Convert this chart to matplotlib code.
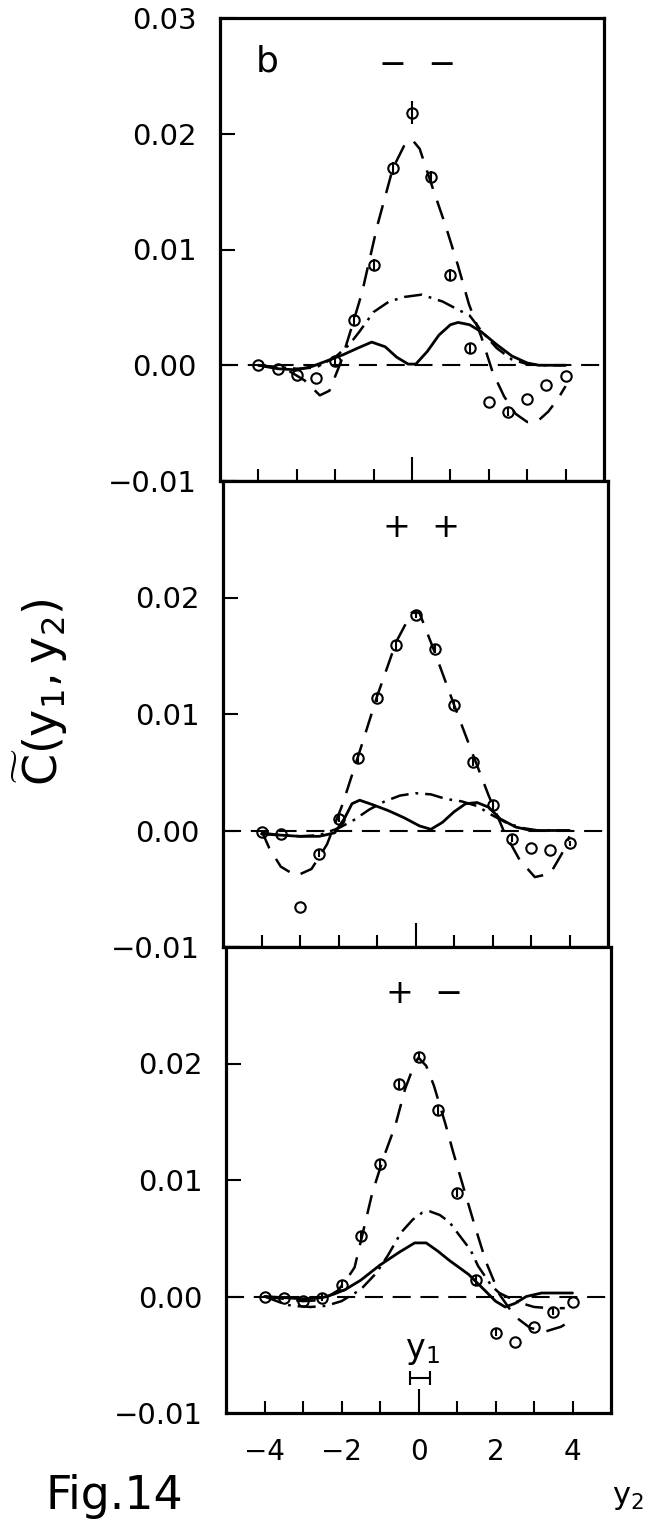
import matplotlib
matplotlib.use("Agg")
import matplotlib.pyplot as plt

plt.rcParams["font.family"] = ["DejaVu Sans"]
plt.rcParams["mathtext.fontset"] = "dejavusans"
plt.rcParams["lines.scale_dashes"] = False
plt.rcParams["axes.unicode_minus"] = True

# ---------------------------------------------------------------- data
y2 = [-4.0, -3.5, -3.0, -2.5, -2.0, -1.5, -1.0, -0.5, 0.0,
      0.5, 1.0, 1.5, 2.0, 2.5, 3.0, 3.5, 4.0]

# charge combination "- -"
mm_pts = [0.0, -0.0003, -0.0008, -0.0011, 0.0004, 0.0039, 0.0087, 0.0170, 0.0218,
          0.0163, 0.0078, 0.0015, -0.0032, -0.0040, -0.0029, -0.0017, -0.0009]
mm_err = [0, 0, 0, 0, 0.0003, 0.0005, 0.0005, 0.0006, 0.0010,
          0.0005, 0.0005, 0.0004, 0, 0.0004, 0, 0, 0]
mm_dash_x = [-4.0, -3.3, -2.8, -2.4, -2.15, -1.85, -1.55, -1.3, -0.9, -0.5, -0.2, 0.0,
             0.2, 0.55, 0.87, 1.19, 1.48, 1.8, 2.1, 2.4, 2.7, 3.0, 3.25, 3.55, 3.8, 4.0]
mm_dash_y = [0.0, -0.0003, -0.0013, -0.0026, -0.0022, 0.0003, 0.0035, 0.0063, 0.0121,
             0.0170, 0.0190, 0.0195, 0.0187, 0.0152, 0.0121, 0.0087, 0.0053, 0.0025,
             -0.0006, -0.0027, -0.0042, -0.0049, -0.0049, -0.0040, -0.0029, -0.0018]
mm_dd_x = [-4.0, -3.0, -2.5, -2.0, -1.63, -1.37, -1.0, -0.6, -0.2, 0.25, 0.8, 1.2,
           1.5, 1.8, 2.2, 2.6, 3.0, 3.4, 4.0]
mm_dd_y = [0.0, -0.0003, -0.0002, 0.0007, 0.0018, 0.0029, 0.0046, 0.0055, 0.0059,
           0.0061, 0.0055, 0.0048, 0.0043, 0.0030, 0.0015, 0.0005, 0.0001, 0.0, 0.0]
mm_sol_x = [-4.0, -3.5, -3.0, -2.6, -2.2, -1.8, -1.4, -1.05, -0.7, -0.4, -0.1, 0.1,
            0.4, 0.7, 1.0, 1.2, 1.5, 1.8, 2.2, 2.6, 3.0, 3.3, 4.0]
mm_sol_y = [0.0, -0.0003, -0.0004, -0.0001, 0.0004, 0.0009, 0.0015, 0.0020, 0.0016,
            0.0007, 0.0001, 0.0001, 0.0012, 0.0026, 0.0035, 0.0037, 0.0035, 0.0029,
            0.0018, 0.0008, 0.0002, 0.0, 0.0]

# charge combination "+ +"
pp_pts = [-0.0001, -0.0003, -0.0066, -0.0020, 0.0010, 0.0062, 0.0114, 0.0159, 0.0185,
          0.0156, 0.0108, 0.0059, 0.0022, -0.0007, -0.0015, -0.0017, -0.0011]
pp_err = [0, 0, 0, 0.0003, 0.0003, 0.0004, 0.0004, 0.0004, 0.0003,
          0.0004, 0.0004, 0.0004, 0.0004, 0.0003, 0, 0, 0.0002]
pp_dash_x = [-4.0, -3.8, -3.5, -3.1, -2.7, -2.3, -1.9, -1.4, -1.0, -0.5, -0.1, 0.1,
             0.5, 1.0, 1.4, 1.9, 2.3, 2.7, 3.1, 3.5, 3.8, 4.0]
pp_dash_y = [0.0, -0.0015, -0.0031, -0.0039, -0.0033, -0.0012, 0.0022, 0.0073, 0.0115,
             0.0162, 0.0187, 0.0187, 0.0153, 0.0108, 0.0073, 0.0030, -0.0001, -0.0025,
             -0.0040, -0.0037, -0.0020, -0.0005]
pp_dd_x = [-4.0, -3.5, -3.0, -2.5, -2.0, -1.6, -1.2, -0.8, -0.4, 0.0, 0.4, 0.8, 1.2,
           1.6, 2.0, 2.4, 2.8, 3.2, 3.6, 4.0]
pp_dd_y = [-0.0002, -0.0004, -0.0005, -0.0004, 0.0002, 0.0009, 0.0018, 0.0025, 0.0030,
           0.0032, 0.0031, 0.0027, 0.0025, 0.0021, 0.0013, 0.0006, 0.0002, 0.0, 0.0, 0.0]
pp_sol_x = [-4.0, -3.5, -3.0, -2.5, -2.1, -1.85, -1.65, -1.45, -1.1, -0.7, -0.3, 0.1,
            0.4, 0.7, 1.0, 1.3, 1.6, 1.9, 2.2, 2.6, 3.0, 4.0]
pp_sol_y = [-0.0003, -0.0004, -0.0005, -0.0005, -0.0002, 0.0010, 0.0023, 0.0026, 0.0022,
            0.0017, 0.0011, 0.0004, 0.0001, 0.0007, 0.0016, 0.0023, 0.0024, 0.0020,
            0.0010, 0.0003, 0.0, 0.0]

# charge combination "+ -"
pm_pts = [0.0, -0.0001, -0.0004, -0.0001, 0.0010, 0.0052, 0.0114, 0.0182, 0.0206,
          0.0160, 0.0089, 0.0014, -0.0031, -0.0039, -0.0026, -0.0013, -0.0005]
pm_err = [0, 0, 0, 0.0003, 0.0003, 0.0004, 0.0004, 0.0004, 0.0003,
          0.0004, 0.0004, 0.0004, 0.0003, 0, 0, 0.0003, 0]
pm_dash_x = [-4.0, -3.5, -3.0, -2.5, -2.1, -1.9, -1.66, -1.4, -1.2, -0.9, -0.6, -0.35,
             -0.1, 0.0, 0.2, 0.4, 0.7, 0.9, 1.2, 1.45, 1.75, 2.1, 2.5, 2.9, 3.3, 3.7, 4.0]
pm_dash_y = [0.0, -0.0002, -0.0004, -0.0003, 0.0005, 0.0013, 0.0025, 0.0061, 0.0089,
             0.0120, 0.0147, 0.0178, 0.0200, 0.0205, 0.0198, 0.0181, 0.0148, 0.0124,
             0.0090, 0.0062, 0.0030, 0.0002, -0.0017, -0.0027, -0.0030, -0.0026, -0.0020]
pm_dd_x = [-4.0, -3.6, -3.3, -2.8, -2.4, -2.0, -1.5, -1.1, -0.8, -0.45, -0.15, 0.1,
           0.3, 0.55, 0.8, 1.05, 1.35, 1.55, 1.9, 2.1, 2.6, 3.0, 3.4, 3.8]
pm_dd_y = [0.0, -0.0005, -0.0008, -0.0009, -0.0008, -0.0004, 0.0006, 0.0020, 0.0035,
           0.0055, 0.0066, 0.0072, 0.0073, 0.0070, 0.0064, 0.0053, 0.0040, 0.0026,
           0.0009, 0.0003, -0.0005, -0.0009, -0.0010, -0.0010]
pm_sol_x = [-4.0, -3.5, -3.0, -2.5, -2.2, -1.9, -1.5, -1.0, -0.5, -0.1, 0.2, 0.5, 0.8,
            1.3, 1.7, 2.0, 2.25, 2.5, 2.8, 3.2, 3.6, 4.0]
pm_sol_y = [0.0, -0.0001, -0.0002, -0.0001, 0.0002, 0.0006, 0.0014, 0.0027, 0.0038,
            0.0046, 0.0046, 0.0039, 0.0031, 0.0019, 0.0006, -0.0004, -0.0009, -0.0006,
            0.0, 0.0003, 0.0003, 0.0003]

panel_tags = ["\u2212  \u2212", "+  +", "+  \u2212"]
x_ticks = [-4, -3, -2, -1, 0, 1, 2, 3, 4]
x_labels = ["\u22124", "", "\u22122", "", "0", "", "2", "", "4"]
y_ticks = [-0.01, 0.0, 0.01, 0.02, 0.03]
y1_pos, y1_half = 0.05, 0.26

# ---------------------------------------------------------------- figure
W, H = 656, 1521
fig = plt.figure(figsize=(W / 100, H / 100), dpi=100)

# panel frames in pixels: (left, right, top, bottom)
frames = [(220, 604, 18, 481), (223, 608, 481, 947), (226, 611, 947, 1413)]

panels = [
    (mm_pts, mm_err, mm_dash_x, mm_dash_y, mm_dd_x, mm_dd_y, mm_sol_x, mm_sol_y),
    (pp_pts, pp_err, pp_dash_x, pp_dash_y, pp_dd_x, pp_dd_y, pp_sol_x, pp_sol_y),
    (pm_pts, pm_err, pm_dash_x, pm_dash_y, pm_dd_x, pm_dd_y, pm_sol_x, pm_sol_y),
]

for i, ((l, r, t, b), data) in enumerate(zip(frames, panels)):
    pts, err, dx, dy, ddx, ddy, sx, sy = data
    ax = fig.add_axes([l / W, 1 - b / H, (r - l) / W, (b - t) / H])
    ax.set_xlim(-5, 5)
    ax.set_ylim(-0.01, 0.03)

    ax.axhline(0.0, color="k", lw=1.5, dashes=(13, 7))
    ax.plot(dx, dy, color="k", lw=1.8, dashes=(14, 9))
    ax.plot(ddx, ddy, color="k", lw=1.8, dashes=(13, 5, 2, 5))
    ax.plot(sx, sy, color="k", lw=2.0, solid_capstyle="round")
    ax.errorbar(y2, pts, yerr=err, fmt="o", ms=7.5, mfc="none", mec="k", mew=1.5,
                ecolor="k", elinewidth=1.5, capsize=0)

    ax.text(0.15, 0.026, panel_tags[i], fontsize=24, ha="center", va="center")

    for sp in ax.spines.values():
        sp.set_linewidth(2.3)

    ax.set_xticks(x_ticks)
    ax.tick_params(axis="x", direction="in", length=9, width=1.5, top=False,
                   labelsize=20, pad=18)
    ax.xaxis.get_major_ticks()[4].tick1line.set_markersize(17)
    if i == 2:
        ax.set_xticklabels(x_labels)
    else:
        ax.set_xticklabels([""] * len(x_ticks))

    ax.set_yticks(y_ticks)
    labels = ["%.2f" % v if (i == 0 or v < 0.025) else "" for v in y_ticks]
    labels = [s.replace("-", "\u2212") for s in labels]
    ax.set_yticklabels(labels)
    ax.tick_params(axis="y", direction="in", length=11, width=1.5, right=False,
                   labelsize=21, pad=17)

    if i == 0:
        ax.text(-3.76, 0.0262, "b", fontsize=26, ha="center", va="center")
    if i == 2:
        ax.errorbar([y1_pos], [-0.0070], xerr=[y1_half], fmt="none", ecolor="k",
                    elinewidth=1.5, capsize=5, capthick=1.5)
        ax.text(y1_pos + 0.05, -0.0046, r"$\mathrm{y}_{1}$", fontsize=24,
                ha="center", va="center")

fig.text(40 / W, 1 - 692 / H, r"$\widetilde{\mathrm{C}}(\mathrm{y}_{1},\mathrm{y}_{2})$",
         rotation=90, fontsize=33, ha="center", va="center")
fig.text(45 / W, 1 - 1509 / H, "Fig.14", fontsize=33, ha="left", va="baseline")
fig.text(628 / W, 1 - 1497 / H, r"$\mathrm{y}_{2}$", fontsize=22, ha="center", va="center")

fig.savefig("out.png", dpi=100)
